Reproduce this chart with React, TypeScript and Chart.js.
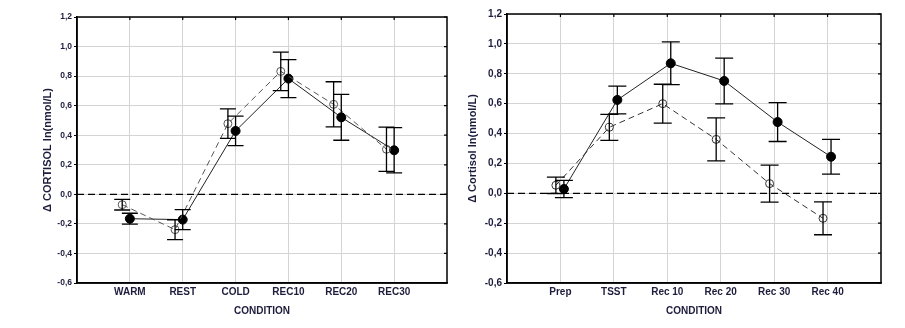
import React, { useEffect, useRef } from 'react';
import { Chart, registerables } from 'chart.js';

Chart.register(...registerables);

// ---- Data ----
const leftCategories = ['WARM', 'REST', 'COLD', 'REC10', 'REC20', 'REC30'];
const leftFilled = [-0.165, -0.171, 0.429, 0.783, 0.521, 0.298];
const leftFilledErr = [0.037, 0.068, 0.1, 0.128, 0.155, 0.153];
const leftOpen = [-0.07, -0.239, 0.478, 0.832, 0.609, 0.305];
const leftOpenErr = [0.036, 0.067, 0.1, 0.13, 0.153, 0.15];

const rightCategories = ['Prep', 'TSST', 'Rec 10', 'Rec 20', 'Rec 30', 'Rec 40'];
const rightFilled = [0.029, 0.625, 0.87, 0.752, 0.477, 0.245];
const rightFilledErr = [0.058, 0.093, 0.143, 0.153, 0.13, 0.116];
const rightOpen = [0.054, 0.442, 0.6, 0.361, 0.065, -0.167];
const rightOpenErr = [0.055, 0.087, 0.13, 0.144, 0.124, 0.11];

const yTickValues = [-0.6, -0.4, -0.2, 0, 0.2, 0.4, 0.6, 0.8, 1.0, 1.2];

const FONT = "'Liberation Sans', Arial, sans-serif";
const TEXT = '#1c1c3c';

type PanelCfg = {
  categories: string[];
  filled: number[];
  filledErr: number[];
  open: number[];
  openErr: number[];
  yTitle: string;
  filledOffset: number;
  openOffset: number;
  yAxisWidth: number;
  padTop: number;
  padRight: number;
  yTickFont: number;
  yTitlePad: number;
  capHalf: number;
  openColor: string;
};

const errorBarsPlugin = (capHalf: number) => ({
  id: 'errorBars',
  afterDatasetsDraw(chart: any) {
    const ctx = chart.ctx;
    const yScale = chart.scales.y;
    ctx.save();
    ctx.strokeStyle = '#000';
    ctx.lineWidth = 1.3;
    ctx.setLineDash([]);
    chart.data.datasets.forEach((ds: any, di: number) => {
      const meta = chart.getDatasetMeta(di);
      meta.data.forEach((el: any, i: number) => {
        const v = ds.data[i].y;
        const e = ds.errors[i];
        const yT = yScale.getPixelForValue(v + e);
        const yB = yScale.getPixelForValue(v - e);
        const x = el.x;
        ctx.beginPath();
        ctx.moveTo(x, yT);
        ctx.lineTo(x, yB);
        ctx.moveTo(x - capHalf, yT);
        ctx.lineTo(x + capHalf, yT);
        ctx.moveTo(x - capHalf, yB);
        ctx.lineTo(x + capHalf, yB);
        ctx.stroke();
      });
    });
    ctx.restore();
  },
});

const zeroLinePlugin = {
  id: 'zeroLine',
  beforeDatasetsDraw(chart: any) {
    const { ctx, chartArea } = chart;
    const y = chart.scales.y.getPixelForValue(0);
    ctx.save();
    ctx.strokeStyle = '#000';
    ctx.lineWidth = 1.2;
    ctx.setLineDash([7, 4]);
    ctx.beginPath();
    ctx.moveTo(chartArea.left, y);
    ctx.lineTo(chartArea.right, y);
    ctx.stroke();
    ctx.restore();
  },
};

const framePlugin = {
  id: 'frame',
  afterDraw(chart: any) {
    const { ctx, chartArea } = chart;
    const { left, right, top, bottom } = chartArea;
    ctx.save();
    ctx.strokeStyle = '#000';
    ctx.lineWidth = 1.5;
    ctx.setLineDash([]);
    ctx.strokeRect(left, top, right - left, bottom - top);
    ctx.lineWidth = 1.2;
    ctx.beginPath();
    chart.scales.x.ticks.forEach((t: any) => {
      const x = chart.scales.x.getPixelForValue(t.value);
      ctx.moveTo(x, top);
      ctx.lineTo(x, top + 3);
    });
    chart.scales.y.ticks.forEach((t: any) => {
      const y = chart.scales.y.getPixelForValue(t.value);
      ctx.moveTo(right, y);
      ctx.lineTo(right - 3, y);
    });
    ctx.stroke();
    ctx.restore();
  },
};

function Panel({ cfg, width, height }: { cfg: PanelCfg; width: number; height: number }) {
  const ref = useRef<HTMLCanvasElement | null>(null);
  useEffect(() => {
    if (!ref.current) return;
    const chart = new Chart(ref.current, {
      type: 'scatter',
      data: {
        datasets: [
          {
            label: 'open',
            data: cfg.open.map((v, i) => ({ x: i + cfg.openOffset, y: v })),
            errors: cfg.openErr,
            showLine: true,
            borderColor: cfg.openColor,
            borderWidth: 1,
            borderDash: [6, 4],
            pointRadius: 4,
            pointBorderWidth: 1,
            pointBorderColor: cfg.openColor,
            pointBackgroundColor: 'rgba(0,0,0,0)',
          } as any,
          {
            label: 'filled',
            data: cfg.filled.map((v, i) => ({ x: i + cfg.filledOffset, y: v })),
            errors: cfg.filledErr,
            showLine: true,
            borderColor: '#222',
            borderWidth: 1,
            pointRadius: 4.5,
            pointBorderWidth: 1,
            pointBorderColor: '#000',
            pointBackgroundColor: '#000',
          } as any,
        ],
      },
      options: {
        animation: false,
        responsive: false,
        maintainAspectRatio: false,
        layout: { padding: { top: cfg.padTop, right: cfg.padRight, left: 0, bottom: 0 } },
        plugins: { legend: { display: false }, tooltip: { enabled: false } },
        scales: {
          x: {
            type: 'linear',
            min: -1,
            max: cfg.categories.length,
            afterBuildTicks: (s: any) => {
              s.ticks = cfg.categories.map((_, i) => ({ value: i }));
            },
            afterFit: (s: any) => {
              s.height = 45;
            },
            grid: { color: '#d4d4d4', lineWidth: 1, drawTicks: false },
            border: { color: '#000', width: 1.5 },
            ticks: {
              padding: 3,
              color: TEXT,
              font: { family: FONT, size: 10, weight: 'bold' },
              maxRotation: 0,
              autoSkip: false,
              callback: (v: any) => cfg.categories[Math.round(Number(v))] ?? '',
            },
            title: {
              display: true,
              text: 'CONDITION',
              color: TEXT,
              font: { family: FONT, size: 10, weight: 'bold' },
              padding: { top: 0, bottom: 11 },
            },
          },
          y: {
            type: 'linear',
            min: -0.6,
            max: 1.2,
            afterBuildTicks: (s: any) => {
              s.ticks = yTickValues.map((v) => ({ value: v }));
            },
            afterFit: (s: any) => {
              s.width = cfg.yAxisWidth;
            },
            grid: { color: '#d4d4d4', lineWidth: 1, drawTicks: true, tickLength: 3, tickColor: '#000' },
            border: { color: '#000', width: 1.5 },
            ticks: {
              padding: 2,
              color: TEXT,
              font: { family: FONT, size: cfg.yTickFont, weight: 'bold' },
              callback: (v: any) => Number(v).toFixed(1).replace('.', ','),
            },
            title: {
              display: true,
              text: cfg.yTitle,
              color: TEXT,
              font: { family: FONT, size: 11, weight: 'bold' },
              padding: { top: cfg.yTitlePad, bottom: 0 },
            },
          },
        },
      } as any,
      plugins: [zeroLinePlugin, errorBarsPlugin(cfg.capHalf), framePlugin],
    });
    return () => chart.destroy();
  }, [cfg]);
  return <canvas ref={ref} width={width} height={height} style={{ width, height, display: 'block' }} />;
}

const leftCfg: PanelCfg = {
  categories: leftCategories,
  filled: leftFilled,
  filledErr: leftFilledErr,
  open: leftOpen,
  openErr: leftOpenErr,
  yTitle: 'Δ CORTISOL ln(nmol/L)',
  filledOffset: 0,
  openOffset: -0.145,
  yAxisWidth: 77,
  padTop: 17,
  padRight: 8,
  yTickFont: 8.5,
  yTitlePad: 41,
  capHalf: 8,
  openColor: '#555',
};

const rightCfg: PanelCfg = {
  categories: rightCategories,
  filled: rightFilled,
  filledErr: rightFilledErr,
  open: rightOpen,
  openErr: rightOpenErr,
  yTitle: 'Δ Cortisol ln(nmol/L)',
  filledOffset: 0.065,
  openOffset: -0.085,
  yAxisWidth: 52,
  padTop: 14,
  padRight: 24,
  yTickFont: 10,
  yTitlePad: 11.7,
  capHalf: 9,
  openColor: '#333',
};

export default function App() {
  return (
    <div style={{ position: 'fixed', left: 0, top: 0, width: 905, height: 328, background: '#fff' }}>
      <div style={{ position: 'absolute', left: 0, top: 0 }}>
        <Panel cfg={leftCfg} width={455} height={328} />
      </div>
      <div style={{ position: 'absolute', left: 455, top: 0 }}>
        <Panel cfg={rightCfg} width={450} height={328} />
      </div>
    </div>
  );
}
